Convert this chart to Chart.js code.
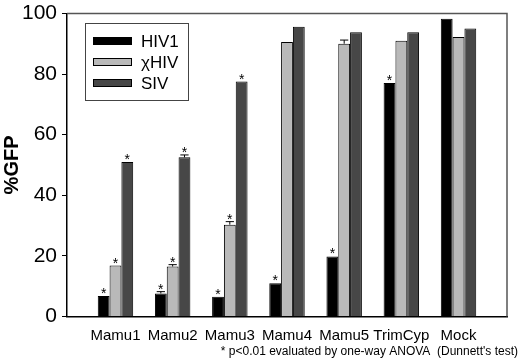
<!DOCTYPE html>
<html lang="en">
<head>
    <meta charset="UTF-8">
    <title>%GFP by restriction factor</title>
    <script src="https://cdn.jsdelivr.net/npm/chart.js"></script>
    <style>
        html, body { margin: 0; padding: 0; background: #fff; }
        #wrap { width: 520px; height: 361px; }
    </style>
</head>
<body>
    <div id="wrap"><canvas id="gfpChart" width="520" height="361"></canvas></div>

    <script>
        // categories
        const labels = ['Mamu1', 'Mamu2', 'Mamu3', 'Mamu4', 'Mamu5', 'TrimCyp', 'Mock'];

        // %GFP values
        const hiv1 = [6.8, 7.6, 6.5, 11.0, 19.8, 77.0, 98.2];
        const chiHiv = [16.8, 16.5, 30.3, 90.6, 90.0, 91.0, 92.2];
        const siv = [51.0, 52.5, 77.5, 95.6, 93.8, 93.8, 95.0];

        // error (SEM) estimates, 0 = not visible
        const hiv1Err = [0, 0.6, 0, 0, 0, 0, 0];
        const chiHivErr = [0, 0.6, 1.0, 0, 1.2, 0, 0];
        const sivErr = [0, 0.8, 0, 0, 0, 0, 0];

        // significance marks (p<0.01)
        const hiv1Sig = [1, 1, 1, 1, 1, 1, 0];
        const chiHivSig = [1, 1, 1, 0, 0, 0, 0];
        const sivSig = [1, 1, 1, 0, 0, 0, 0];

        const yTicks = [0, 20, 40, 60, 80, 100];

        const font = '"Liberation Sans", Arial, sans-serif';

        function toPoints(arr) {
            return arr.map((v, i) => ({ x: i, y: v }));
        }

        const series = [
            { label: 'HIV1', values: hiv1, err: hiv1Err, sig: hiv1Sig, color: '#000000' },
            { label: '\u03C7HIV', values: chiHiv, err: chiHivErr, sig: chiHivSig, color: '#b9b9b9' },
            { label: 'SIV', values: siv, err: sivErr, sig: sivSig, color: '#474747' }
        ];

        // error bars + asterisks
        const errorBarPlugin = {
            id: 'errorBars',
            afterDatasetsDraw(chart) {
                const ctx = chart.ctx;
                const y = chart.scales.y;
                ctx.save();
                series.forEach((s, di) => {
                    const meta = chart.getDatasetMeta(di);
                    meta.data.forEach((bar, i) => {
                        const topPx = y.getPixelForValue(s.values[i] + s.err[i]);
                        if (s.err[i] > 0) {
                            const half = bar.width * 0.35;
                            ctx.strokeStyle = '#000';
                            ctx.lineWidth = 1;
                            ctx.beginPath();
                            ctx.moveTo(bar.x, bar.y);
                            ctx.lineTo(bar.x, topPx);
                            ctx.moveTo(bar.x - half, topPx);
                            ctx.lineTo(bar.x + half, topPx);
                            ctx.stroke();
                        }
                        if (s.sig[i]) {
                            ctx.fillStyle = '#000';
                            ctx.font = '14px ' + font;
                            ctx.textAlign = 'center';
                            ctx.textBaseline = 'alphabetic';
                            ctx.fillText('*', bar.x, topPx + 2);
                        }
                    });
                });
                ctx.restore();
            }
        };

        // frame, legend box and footnote
        const decorPlugin = {
            id: 'decor',
            afterDraw(chart) {
                const ctx = chart.ctx;
                const a = chart.chartArea;
                ctx.save();
                ctx.strokeStyle = '#555';
                ctx.lineWidth = 1.5;
                ctx.beginPath();
                ctx.moveTo(a.left, a.top);
                ctx.lineTo(a.right, a.top);
                ctx.lineTo(a.right, a.bottom);
                ctx.stroke();

                // legend
                ctx.lineWidth = 1;
                ctx.strokeStyle = '#444';
                ctx.strokeRect(85.5, 23.5, 103, 77);
                const rows = [41, 62, 83];
                series.forEach((s, i) => {
                    ctx.fillStyle = s.color;
                    ctx.fillRect(93, rows[i] - 3.5, 39, 7);
                    ctx.strokeStyle = '#000';
                    ctx.strokeRect(93.5, rows[i] - 3.5, 38, 7);
                    ctx.fillStyle = '#000';
                    ctx.font = '17px ' + font;
                    ctx.textAlign = 'left';
                    ctx.textBaseline = 'middle';
                    ctx.fillText(s.label, 141, rows[i] + 1);
                });

                // footnote
                ctx.font = '12px ' + font;
                ctx.textAlign = 'right';
                ctx.textBaseline = 'alphabetic';
                ctx.fillStyle = '#000';
                ctx.fillText("* p<0.01 evaluated by one-way ANOVA  (Dunnett's test)", 518, 355);
                ctx.restore();
            }
        };

        new Chart(document.getElementById('gfpChart'), {
            type: 'bar',
            data: {
                datasets: series.map(s => ({
                    label: s.label,
                    data: toPoints(s.values),
                    backgroundColor: s.color,
                    borderColor: '#000',
                    borderWidth: 1,
                    categoryPercentage: 0.62,
                    barPercentage: 1.0
                }))
            },
            options: {
                responsive: false,
                animation: false,
                layout: { padding: { top: 9, right: 13, left: 0, bottom: 0 } },
                plugins: {
                    legend: { display: false },
                    tooltip: { enabled: false }
                },
                scales: {
                    x: {
                        type: 'linear',
                        offset: false,
                        min: -0.848,
                        max: 6.848,
                        afterBuildTicks: s => { s.ticks = labels.map((_, i) => ({ value: i })); },
                        afterFit: s => { s.height = 44.5; },
                        grid: { display: false, drawTicks: false, offset: false },
                        border: { display: true, color: '#000', width: 1.5 },
                        ticks: {
                            padding: 12,
                            color: '#000',
                            maxRotation: 0,
                            autoSkip: false,
                            font: { family: font, size: 15, lineHeight: 1 },
                            callback: v => labels[v]
                        }
                    },
                    y: {
                        min: 0,
                        max: 100,
                        afterBuildTicks: s => { s.ticks = yTicks.map(v => ({ value: v })); },
                        afterFit: s => { s.width = 67; },
                        grid: { drawOnChartArea: false, drawTicks: true, tickLength: 5, color: '#000' },
                        border: { display: true, color: '#000', width: 1.5 },
                        ticks: {
                            padding: 5,
                            color: '#000',
                            font: { family: font, size: 21, lineHeight: 0.8 }
                        },
                        title: {
                            display: true,
                            text: '%GFP',
                            color: '#000',
                            padding: { top: 0, bottom: 0 },
                            font: { family: font, size: 20, weight: 'bold' }
                        }
                    }
                }
            },
            plugins: [errorBarPlugin, decorPlugin]
        });
    </script>
</body>
</html>
